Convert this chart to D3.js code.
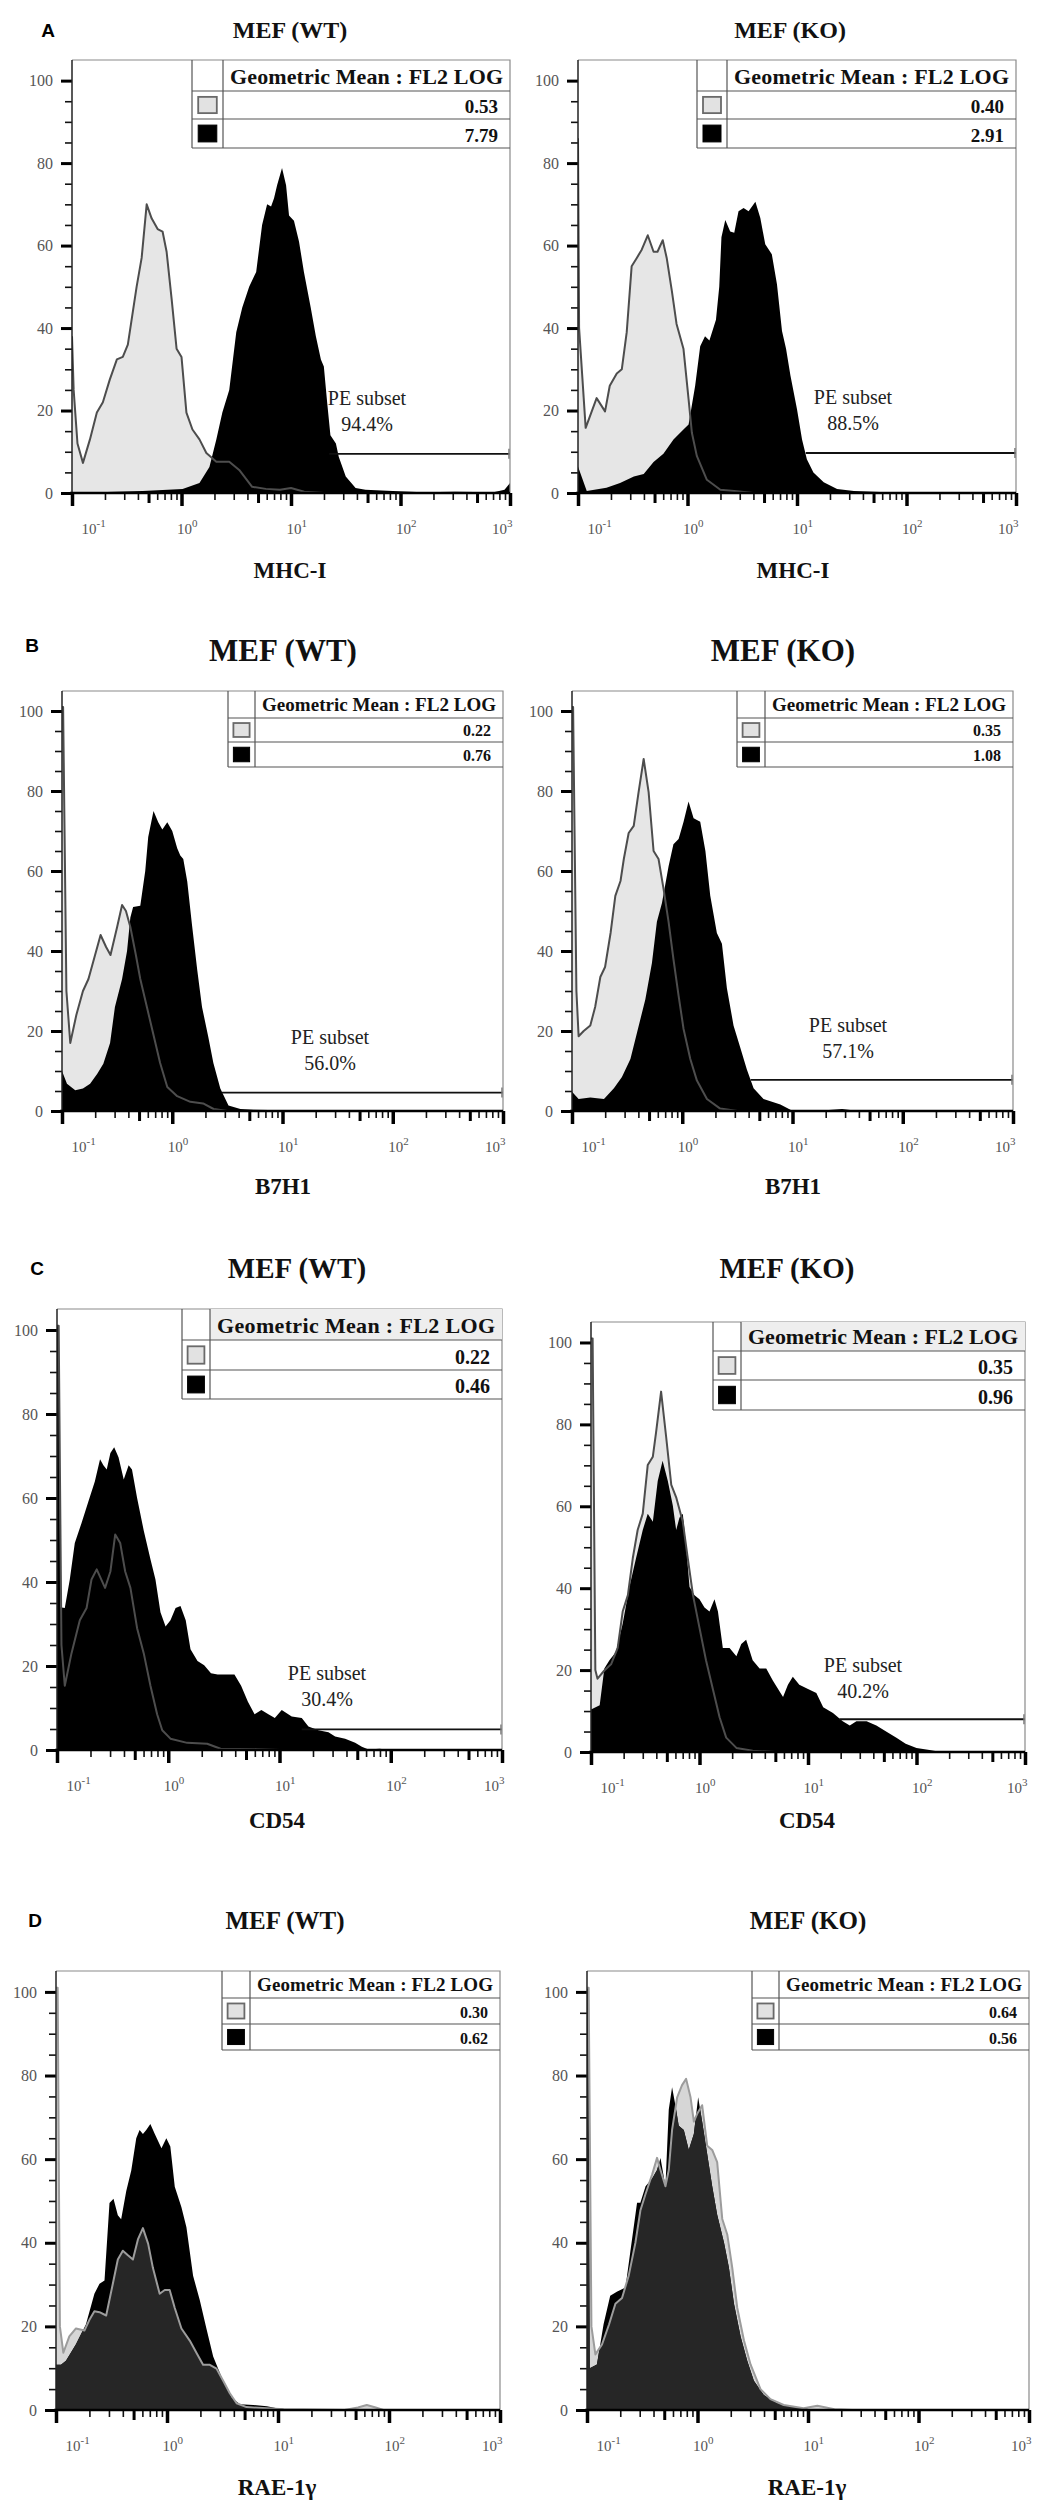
<!DOCTYPE html>
<html><head><meta charset="utf-8">
<script src="https://cdn.jsdelivr.net/npm/d3@7"></script>
<style>html,body{margin:0;padding:0;background:#fff}svg{display:block}</style>
</head><body>
<svg id="fig" width="1042" height="2512"></svg>
<script>
// ---------------- DATA ----------------
const panelLetters = ["A", "B", "C", "D"];
const cellLines = ["MEF (WT)", "MEF (KO)"];
const markers = ["MHC-I", "B7H1", "CD54", "RAE-1γ"];
const legendHeader = "Geometric Mean : FL2 LOG";
const tickExponents = [-1, 0, 1, 2, 3];
const yTickValues = [0, 20, 40, 60, 80, 100];
const geoMeanIsotype = [0.53, 0.40, 0.22, 0.35, 0.22, 0.35, 0.30, 0.64];
const geoMeanStained = [7.79, 2.91, 0.76, 1.08, 0.46, 0.96, 0.62, 0.56];
const peSubsetPct = [94.4, 88.5, 56.0, 57.1, 30.4, 40.2, null, null];
const gateLevel = [9.5, 9.7, 4.6, 7.8, 4.9, 8.0, null, null];
const gateStartLog = [1.35, 1.08, 0.45, 0.62, 1.2, 1.29, null, null];

// histogram series: [log10 fluorescence, % of max]
const mhcWtIso = [[-1,38],[-0.985,25],[-0.95,12],[-0.9,7.3],[-0.836,13],[-0.773,19.5],[-0.718,22],[-0.655,27.5],[-0.59,32.4],[-0.536,33],[-0.49,36],[-0.41,50],[-0.364,57],[-0.318,70],[-0.273,66.6],[-0.218,64],[-0.173,63.4],[-0.136,58.5],[-0.09,47],[-0.045,35],[0.0,33],[0.045,19.5],[0.1,15.4],[0.164,13],[0.227,9.7],[0.318,7.6],[0.436,7.6],[0.527,5.6],[0.645,1.5],[0.77,1],[0.9,0.8],[1.0,1.2],[1.12,0.3],[1.3,0],[3,0]];
const mhcWtStained = [[-1,0],[-0.6,0.3],[-0.355,0.5],[0.01,1],[0.164,2.4],[0.255,6.3],[0.318,13],[0.373,19.5],[0.436,25],[0.5,39],[0.555,45],[0.618,50],[0.682,53.6],[0.736,65],[0.782,70],[0.818,69.5],[0.845,71.5],[0.873,74.6],[0.918,78.8],[0.955,74.6],[0.982,67.3],[1.027,66],[1.073,61],[1.118,53.6],[1.18,45],[1.227,38],[1.273,32.4],[1.3,30.7],[1.33,22],[1.36,14],[1.41,12],[1.436,8.8],[1.5,4],[1.59,1.2],[1.68,0.8],[1.98,0.4],[2.2,0.2],[2.5,0.3],[2.85,0.2],[2.95,0.8],[3,2.4]];
const mhcKoIso = [[-1,86],[-0.99,40],[-0.93,15.8],[-0.83,23],[-0.753,19.8],[-0.71,26],[-0.646,29],[-0.6,30],[-0.555,39],[-0.51,55],[-0.463,57],[-0.418,59],[-0.363,62.5],[-0.31,58.5],[-0.274,58.5],[-0.226,61.3],[-0.19,57],[-0.143,49],[-0.1,41],[-0.037,35],[0.01,22.7],[0.04,14.6],[0.085,9],[0.177,3.2],[0.3,0.8],[0.45,0.4],[0.6,0],[3,0]];
const mhcKoStained = [[-1,6.4],[-0.92,0.5],[-0.74,1.3],[-0.616,2.4],[-0.49,4],[-0.4,4.6],[-0.31,7.5],[-0.22,9.5],[-0.128,13],[-0.037,15.4],[0.01,16.6],[0.07,26],[0.116,35.6],[0.16,38],[0.2,37],[0.26,42],[0.29,50],[0.31,62],[0.345,66.2],[0.39,63.4],[0.427,63.1],[0.466,68.3],[0.512,69.1],[0.558,68.3],[0.62,70.6],[0.665,66.7],[0.71,60.3],[0.77,57.9],[0.817,50.6],[0.863,39.3],[0.9,35],[0.94,28.5],[1.0,20.3],[1.046,13],[1.09,8.2],[1.15,5],[1.244,2.6],[1.366,1],[1.52,0.5],[1.82,0.2],[2.0,0],[3,0]];
const b7h1WtIso = [[-1,101],[-0.99,101],[-0.96,30],[-0.925,17],[-0.87,24],[-0.81,30],[-0.76,33],[-0.7,39],[-0.65,44],[-0.6,41],[-0.56,39],[-0.5,46],[-0.455,51.5],[-0.42,50],[-0.38,46],[-0.33,39],[-0.29,33],[-0.23,26],[-0.17,19],[-0.11,12],[-0.045,6],[0.045,3.7],[0.164,2.3],[0.28,1.9],[0.375,0.5],[0.5,0],[3,0]];
const b7h1WtStained = [[-1,10],[-0.955,6.8],[-0.88,5.2],[-0.81,5.6],[-0.745,6.8],[-0.68,9.3],[-0.625,11.8],[-0.564,17],[-0.52,26],[-0.455,33],[-0.41,40],[-0.38,48.4],[-0.355,51],[-0.29,51.3],[-0.245,60],[-0.218,68.5],[-0.17,75],[-0.127,72.2],[-0.09,70.4],[-0.045,72.2],[0.0,70],[0.045,65.7],[0.073,63.9],[0.1,63],[0.136,57.4],[0.18,46.3],[0.227,35.2],[0.27,26],[0.327,18.5],[0.373,12],[0.436,5.6],[0.51,1.4],[0.618,0.5],[0.74,0.3],[1.0,0.2],[1.2,0],[3,0]];
const b7h1KoIso = [[-1,101],[-0.99,101],[-0.96,30],[-0.94,18.7],[-0.894,20],[-0.834,21.4],[-0.79,26],[-0.743,33.5],[-0.7,36],[-0.65,44.5],[-0.607,53.8],[-0.56,57.5],[-0.53,63],[-0.486,69.5],[-0.44,71.3],[-0.396,79.7],[-0.35,88],[-0.305,79.7],[-0.26,65],[-0.215,63],[-0.17,55.6],[-0.124,47.3],[-0.08,38],[-0.033,28.8],[0.012,20.5],[0.073,13],[0.133,7.6],[0.224,3],[0.344,0.6],[0.5,0],[3,0]];
const b7h1KoStained = [[-1,4.8],[-0.94,3],[-0.834,3.4],[-0.71,3],[-0.62,5.7],[-0.547,8.5],[-0.47,13],[-0.41,19.6],[-0.335,27.9],[-0.275,37],[-0.23,47.3],[-0.184,52],[-0.124,61.2],[-0.08,66.7],[-0.033,68],[0.012,72.3],[0.057,77.4],[0.103,73.2],[0.163,72.3],[0.21,65],[0.254,53.8],[0.314,44.5],[0.36,41.8],[0.405,30.7],[0.465,21.4],[0.526,15.9],[0.586,10.4],[0.647,5.7],[0.737,3],[0.89,1.6],[0.99,0.2],[1.3,0.2],[1.45,0.5],[1.6,0],[3,0]];
const cd54WtIso = [[-1,101],[-0.985,101],[-0.96,25],[-0.93,15.3],[-0.87,23],[-0.795,30.9],[-0.734,33.8],[-0.69,40.6],[-0.643,43],[-0.568,38.6],[-0.52,42.5],[-0.477,51.3],[-0.432,49.3],[-0.387,42.5],[-0.34,38.6],[-0.28,29],[-0.22,23],[-0.16,15.3],[-0.1,8.5],[-0.054,4.7],[0.02,2.7],[0.17,1.7],[0.35,1.5],[0.47,0.3],[0.8,0.2],[1.0,0],[3,0]];
const cd54WtStained = [[-1,101],[-0.985,101],[-0.97,34],[-0.93,33.8],[-0.885,40.6],[-0.84,49.3],[-0.78,54],[-0.72,59],[-0.66,63.9],[-0.613,69.2],[-0.583,67.8],[-0.553,66.8],[-0.52,70.7],[-0.486,72.1],[-0.447,69.7],[-0.4,64.4],[-0.356,67.8],[-0.326,66.8],[-0.28,60],[-0.22,52.2],[-0.16,45.4],[-0.115,40.6],[-0.07,32.8],[-0.024,29.4],[0.02,30.9],[0.066,33.8],[0.11,34.3],[0.157,30.9],[0.2,24],[0.263,21.2],[0.323,20.2],[0.384,18.3],[0.444,18],[0.595,18],[0.655,15.3],[0.716,11.5],[0.776,8.5],[0.837,9.5],[0.9,8.5],[0.958,7.6],[1.02,9.5],[1.11,8],[1.2,7.6],[1.26,5.6],[1.35,4.7],[1.44,4.2],[1.5,3.2],[1.59,2.7],[1.68,1.7],[1.74,0.8],[1.8,0.1],[1.9,0.3],[2.0,0],[3,0]];
const cd54KoIso = [[-1,101],[-0.985,101],[-0.96,20],[-0.94,17.9],[-0.877,19.9],[-0.815,21.4],[-0.754,25.4],[-0.708,34.3],[-0.66,38.3],[-0.615,47.3],[-0.57,54.2],[-0.523,58.2],[-0.477,70.1],[-0.43,72.1],[-0.4,78.1],[-0.354,88],[-0.308,77.1],[-0.26,65.2],[-0.215,62.2],[-0.154,56.2],[-0.108,47.3],[-0.06,38.3],[0.0,30.3],[0.06,22.4],[0.123,15.4],[0.185,8.5],[0.246,3.5],[0.34,1],[0.49,0.3],[0.7,0],[3,0]];
const cd54KoStained = [[-1,10.4],[-0.92,11.4],[-0.877,20.4],[-0.83,22.4],[-0.77,24.4],[-0.708,31.3],[-0.646,40.3],[-0.585,47.3],[-0.523,54.2],[-0.477,58.2],[-0.43,56.2],[-0.385,66.2],[-0.34,71.1],[-0.292,66.2],[-0.246,60.2],[-0.215,54.2],[-0.185,57.2],[-0.154,58.2],[-0.123,50.2],[-0.092,40.3],[-0.046,38.3],[0.0,37.3],[0.046,35.3],[0.092,34.3],[0.138,37.3],[0.17,34.3],[0.215,25.4],[0.277,25.4],[0.34,23.4],[0.385,26.4],[0.43,27.4],[0.49,22.4],[0.554,20.4],[0.615,20.4],[0.677,17.4],[0.77,13.4],[0.815,16.4],[0.86,18.4],[0.92,16.4],[1.0,15.4],[1.077,14.4],[1.14,10.9],[1.23,9.5],[1.32,7.5],[1.385,6.5],[1.446,7.5],[1.54,7.5],[1.63,6.5],[1.72,5],[1.815,3.5],[1.9,2],[2.0,1],[2.12,0.5],[2.2,0.1],[2.3,0],[3,0]];
const rae1WtIso = [[-1,101],[-0.985,101],[-0.965,20],[-0.934,13.7],[-0.88,17.6],[-0.82,19.5],[-0.744,19],[-0.7,21.5],[-0.654,23.6],[-0.608,23.4],[-0.548,22.6],[-0.488,30.2],[-0.443,36],[-0.398,38.1],[-0.352,37],[-0.307,36],[-0.262,40.8],[-0.217,43.5],[-0.17,39.8],[-0.127,34],[-0.066,27.8],[-0.02,28.7],[0.024,28.7],[0.07,24.4],[0.13,19.5],[0.205,16.6],[0.265,13.7],[0.325,10.8],[0.386,10.8],[0.446,9.9],[0.506,7],[0.566,4],[0.627,1.6],[0.717,0.7],[0.9,0.4],[1.05,0.2],[1.6,0],[1.72,0.6],[1.8,1.2],[1.88,0.6],[1.95,0],[3,0]];
const rae1WtStained = [[-1,10.8],[-0.955,10.8],[-0.91,11.8],[-0.82,15.7],[-0.73,20.5],[-0.654,27.8],[-0.608,30.2],[-0.563,31],[-0.518,49.5],[-0.482,50.5],[-0.443,46.6],[-0.413,45.6],[-0.367,52.4],[-0.322,57.3],[-0.277,65],[-0.247,67],[-0.217,66],[-0.187,67],[-0.15,68.4],[-0.11,66],[-0.05,62.6],[-0.006,65],[0.03,63],[0.07,53.4],[0.13,48.5],[0.175,43.7],[0.235,32.1],[0.295,26.3],[0.355,19.5],[0.416,12.8],[0.46,9.9],[0.506,7],[0.58,3],[0.657,1.4],[0.777,1.2],[0.9,0.9],[0.99,0.4],[1.08,0.2],[1.2,0],[3,0]];
const rae1KoIso = [[-1,101],[-0.985,101],[-0.96,20],[-0.924,13.3],[-0.864,15.7],[-0.8,20.5],[-0.743,25.4],[-0.683,26.8],[-0.622,32.2],[-0.562,40],[-0.517,47.7],[-0.471,51.6],[-0.41,56.4],[-0.366,60.3],[-0.335,57.4],[-0.29,53.5],[-0.26,57.4],[-0.23,67],[-0.184,74.8],[-0.14,77.7],[-0.103,79.2],[-0.063,74.8],[-0.033,69],[0.0,71],[0.042,72.9],[0.088,63.2],[0.133,62.2],[0.178,59.3],[0.224,45.7],[0.27,41.9],[0.314,34.1],[0.36,24.4],[0.42,16.7],[0.48,10.9],[0.57,5],[0.66,2.6],[0.78,1.2],[0.96,0.4],[1.085,1],[1.24,0.2],[1.4,0],[3,0]];
const rae1KoStained = [[-1,101],[-0.99,101],[-0.975,10],[-0.91,10.9],[-0.85,20.5],[-0.79,27.3],[-0.73,28.3],[-0.652,29.3],[-0.607,38],[-0.547,49.6],[-0.517,49.6],[-0.47,53.5],[-0.41,55.4],[-0.366,57.4],[-0.335,60.3],[-0.29,53.5],[-0.26,71.9],[-0.23,77.2],[-0.2,72.9],[-0.17,68],[-0.124,67],[-0.079,62.2],[-0.033,66],[0.006,74.8],[0.042,69],[0.088,61.2],[0.133,53.5],[0.178,46.7],[0.24,40],[0.284,34.1],[0.33,25.4],[0.39,17.6],[0.45,11.8],[0.51,7],[0.6,3.6],[0.72,1.6],[0.87,0.7],[1.02,0.2],[1.2,0],[3,0]];

const isotypeSeries = [mhcWtIso, mhcKoIso, b7h1WtIso, b7h1KoIso, cd54WtIso, cd54KoIso, rae1WtIso, rae1KoIso];
const stainedSeries = [mhcWtStained, mhcKoStained, b7h1WtStained, b7h1KoStained, cd54WtStained, cd54KoStained, rae1WtStained, rae1KoStained];

// ---------------- LAYOUT (positions / sizes only) ----------------
const layout = [
 {L:72,R:510,T:60,B:493, lg:{x:192,div:223,rows:[60,91,119,148],hf:22,vf:19}, title:{x:290,y:30,fs:24}, letter:{x:48,y:30}, xlab:{x:290,y:570}, pe:{x:367,y:398}},
 {L:578,R:1016,T:60,B:493, lg:{x:697,div:727,rows:[60,91,119,148],hf:22,vf:19}, title:{x:790,y:30,fs:24}, xlab:{x:793,y:570}, pe:{x:853,y:397}},
 {L:62,R:503,T:691,B:1111, lg:{x:228,div:255,rows:[691,718,742,767],hf:19,vf:16}, title:{x:283,y:650,fs:31}, letter:{x:32,y:645}, xlab:{x:283,y:1186}, pe:{x:330,y:1037}},
 {L:572,R:1013,T:691,B:1111, lg:{x:737,div:765,rows:[691,718,742,767],hf:19,vf:16}, title:{x:783,y:650,fs:31}, xlab:{x:793,y:1186}, pe:{x:848,y:1025}},
 {L:57,R:502,T:1309,B:1750, lg:{x:182,div:210,rows:[1309,1340,1370,1399],hf:22,vf:20,hbg:true}, title:{x:297,y:1268,fs:29}, letter:{x:37,y:1268}, xlab:{x:277,y:1820}, pe:{x:327,y:1673}},
 {L:591,R:1025,T:1322,B:1752, lg:{x:713,div:741,rows:[1322,1351,1380,1410],hf:22,vf:20,hbg:true}, title:{x:787,y:1268,fs:29}, xlab:{x:807,y:1820}, pe:{x:863,y:1665}},
 {L:56,R:500,T:1971,B:2410, lg:{x:222,div:250,rows:[1971,1998,2024,2050],hf:19,vf:16}, title:{x:285,y:1920,fs:25}, letter:{x:35,y:1920}, xlab:{x:277,y:2487}, pe:null, dark:true},
 {L:587,R:1029,T:1971,B:2410, lg:{x:752,div:779,rows:[1971,1998,2024,2050],hf:19,vf:16}, title:{x:808,y:1920,fs:25}, xlab:{x:807,y:2487}, pe:null, dark:true}
];

const serif = "'Liberation Serif','Times New Roman',Times,serif";
const sans = "'Liberation Sans',Arial,Helvetica,sans-serif";
const svg = d3.select("#fig");
const defs = svg.append("defs");
const fmt2 = d3.format(".2f"), fmt1 = d3.format(".1f");

layout.forEach((g, i) => {
  const row = Math.floor(i / 2), col = i % 2;
  const iso = isotypeSeries[i], st = stainedSeries[i];
  const x = d3.scaleLog().domain([0.1, 1000]).range([g.L, g.R]);
  const y = d3.scaleLinear().domain([0, 105]).range([g.B, g.T]);
  const area = d3.area().x(d => x(Math.pow(10, d[0]))).y0(y(0)).y1(d => y(d[1]));
  const line = d3.line().x(d => x(Math.pow(10, d[0]))).y(d => y(d[1]));

  defs.append("clipPath").attr("id", "plot" + i)
    .append("rect").attr("x", g.L).attr("y", g.T).attr("width", g.R - g.L).attr("height", g.B - g.T);
  const pg = svg.append("g").attr("clip-path", `url(#plot${i})`);

  const greyFill = g.dark ? "#d6d6d6" : "#e6e6e6";
  const greyLine = g.dark ? "#9c9c9c" : "#4d4d4d";

  pg.append("path").datum(iso).attr("d", area).attr("fill", greyFill);
  pg.append("path").datum(st).attr("d", area).attr("fill", "#000");
  if (g.dark) {
    defs.append("clipPath").attr("id", "ov" + i).append("path").datum(st).attr("d", area);
    pg.append("path").datum(iso).attr("d", area).attr("fill", "#262626").attr("clip-path", `url(#ov${i})`);
  }
  // gate
  if (gateLevel[i] != null) {
    const gy = y(gateLevel[i]);
    const gx0 = x(Math.pow(10, gateStartLog[i]));
    pg.append("line").attr("x1", gx0).attr("x2", g.R).attr("y1", gy).attr("y2", gy)
      .attr("stroke", "#111").attr("stroke-width", 1.8);
    pg.append("line").attr("x1", g.R - 1).attr("x2", g.R - 1).attr("y1", gy - 5).attr("y2", gy + 5)
      .attr("stroke", "#777").attr("stroke-width", 1.5);
  }
  pg.append("path").datum(iso).attr("d", line).attr("fill", "none")
    .attr("stroke", greyLine).attr("stroke-width", 2).attr("stroke-linejoin", "round");

  // frame (top & right)
  svg.append("path").attr("d", `M${g.L},${g.T}H${g.R}V${g.B}`).attr("fill", "none")
    .attr("stroke", "#8a8a8a").attr("stroke-width", 1.2);

  // Y axis
  const yMinor = d3.range(0, 101, 5).filter(v => !yTickValues.includes(v));
  const yMin = svg.append("g").attr("transform", `translate(${g.L},0)`)
    .call(d3.axisLeft(y).tickValues(yMinor).tickSize(7).tickFormat(""));
  yMin.select(".domain").remove();
  yMin.selectAll("line").attr("stroke", "#111").attr("stroke-width", 1.6);
  const yMaj = svg.append("g").attr("transform", `translate(${g.L},0)`)
    .call(d3.axisLeft(y).tickValues(yTickValues).tickSize(11).tickPadding(8).tickFormat(d3.format("d")));
  yMaj.select(".domain").remove();
  yMaj.selectAll("line").attr("stroke", "#000").attr("stroke-width", 3);
  yMaj.selectAll("text").attr("font-family", serif).attr("font-size", 16).attr("fill", "#555");
  svg.append("line").attr("x1", g.L).attr("x2", g.L).attr("y1", g.T).attr("y2", g.B)
    .attr("stroke", "#222").attr("stroke-width", 1.5);

  // X axis
  const minorVals = [], fiveVals = [];
  tickExponents.slice(0, -1).forEach(e => {
    for (let k = 2; k <= 9; k++) (k === 5 ? fiveVals : minorVals).push(k * Math.pow(10, e));
  });
  const xa1 = svg.append("g").attr("transform", `translate(0,${g.B})`)
    .call(d3.axisBottom(x).tickValues(minorVals).tickSize(7).tickFormat(""));
  xa1.select(".domain").remove();
  xa1.selectAll("line").attr("stroke", "#111").attr("stroke-width", 1.6);
  const xa2 = svg.append("g").attr("transform", `translate(0,${g.B})`)
    .call(d3.axisBottom(x).tickValues(fiveVals).tickSize(10).tickFormat(""));
  xa2.select(".domain").remove();
  xa2.selectAll("line").attr("stroke", "#000").attr("stroke-width", 3);
  const xa3 = svg.append("g").attr("transform", `translate(0,${g.B})`)
    .call(d3.axisBottom(x).tickValues(tickExponents.map(e => Math.pow(10, e))).tickSize(13).tickFormat(""));
  xa3.select(".domain").remove();
  xa3.selectAll("line").attr("stroke", "#000").attr("stroke-width", 3.5);
  xa3.selectAll(".tick").each(function(d, k) {
    const n = tickExponents.length;
    const t = d3.select(this).append("text")
      .attr("font-family", serif).attr("fill", "#555").attr("y", 41)
      .attr("x", k === 0 ? 9 : (k === n - 1 ? 2 : -5))
      .attr("text-anchor", k === n - 1 ? "end" : "start");
    t.append("tspan").attr("font-size", 15).text("10");
    t.append("tspan").attr("font-size", 11).attr("dy", -7).text(String(tickExponents[k]));
  });
  svg.append("line").attr("x1", g.L - 2).attr("x2", g.R).attr("y1", g.B).attr("y2", g.B)
    .attr("stroke", "#000").attr("stroke-width", 2.5);

  // Legend table
  const lg = g.lg, r = lg.rows;
  if (lg.hbg) svg.append("rect").attr("x", lg.div).attr("y", r[0]).attr("width", g.R - lg.div).attr("height", r[1] - r[0]).attr("fill", "#eeeeee");
  const tl = svg.append("g").attr("stroke", "#555").attr("stroke-width", 1.2);
  tl.append("line").attr("x1", lg.x).attr("x2", lg.x).attr("y1", r[0]).attr("y2", r[3]);
  tl.append("line").attr("x1", lg.div).attr("x2", lg.div).attr("y1", r[0]).attr("y2", r[3]);
  [1, 2, 3].forEach(k => tl.append("line").attr("x1", lg.x).attr("x2", g.R).attr("y1", r[k]).attr("y2", r[k]));
  svg.append("text").attr("x", (lg.div + g.R) / 2).attr("y", r[1] - 7)
    .attr("text-anchor", "middle").attr("font-family", serif).attr("font-weight", "bold")
    .attr("font-size", lg.hf).attr("fill", "#111")
    .attr("textLength", g.R - lg.div - 14).attr("lengthAdjust", "spacing")
    .text(legendHeader);
  const vals = [geoMeanIsotype[i], geoMeanStained[i]];
  vals.forEach((v, k) => {
    const y0 = r[k + 1], y1 = r[k + 2], rh = y1 - y0, cw = lg.div - lg.x;
    const sw = cw * 0.6, sh = rh * 0.58;
    svg.append("rect").attr("x", lg.x + (cw - sw) / 2).attr("y", y0 + (rh - sh) / 2)
      .attr("width", sw).attr("height", sh)
      .attr("fill", k === 0 ? "#e2e2e2" : "#000")
      .attr("stroke", k === 0 ? "#6a6a6a" : "#000").attr("stroke-width", k === 0 ? 1.8 : 1);
    svg.append("text").attr("x", g.R - 12).attr("y", y1 - 6).attr("text-anchor", "end")
      .attr("font-family", serif).attr("font-weight", "bold").attr("font-size", lg.vf).attr("fill", "#111")
      .text(fmt2(v));
  });

  // PE subset label
  if (g.pe && peSubsetPct[i] != null) {
    svg.append("text").attr("x", g.pe.x).attr("y", g.pe.y).attr("text-anchor", "middle")
      .attr("dominant-baseline", "central").attr("font-family", serif).attr("font-size", 20).attr("fill", "#222")
      .text("PE subset");
    svg.append("text").attr("x", g.pe.x).attr("y", g.pe.y + 26).attr("text-anchor", "middle")
      .attr("dominant-baseline", "central").attr("font-family", serif).attr("font-size", 20).attr("fill", "#222")
      .text(fmt1(peSubsetPct[i]) + "%");
  }

  // Titles
  svg.append("text").attr("x", g.title.x).attr("y", g.title.y).attr("text-anchor", "middle")
    .attr("dominant-baseline", "central").attr("font-family", serif).attr("font-weight", "bold")
    .attr("font-size", g.title.fs).attr("fill", "#111").text(cellLines[col]);
  if (g.letter) svg.append("text").attr("x", g.letter.x).attr("y", g.letter.y).attr("text-anchor", "middle")
    .attr("dominant-baseline", "central").attr("font-family", sans).attr("font-weight", "bold")
    .attr("font-size", 19).attr("fill", "#000").text(panelLetters[row]);
  svg.append("text").attr("x", g.xlab.x).attr("y", g.xlab.y).attr("text-anchor", "middle")
    .attr("dominant-baseline", "central").attr("font-family", serif).attr("font-weight", "bold")
    .attr("font-size", 23).attr("fill", "#111").text(markers[row]);
});
</script>
</body></html>
